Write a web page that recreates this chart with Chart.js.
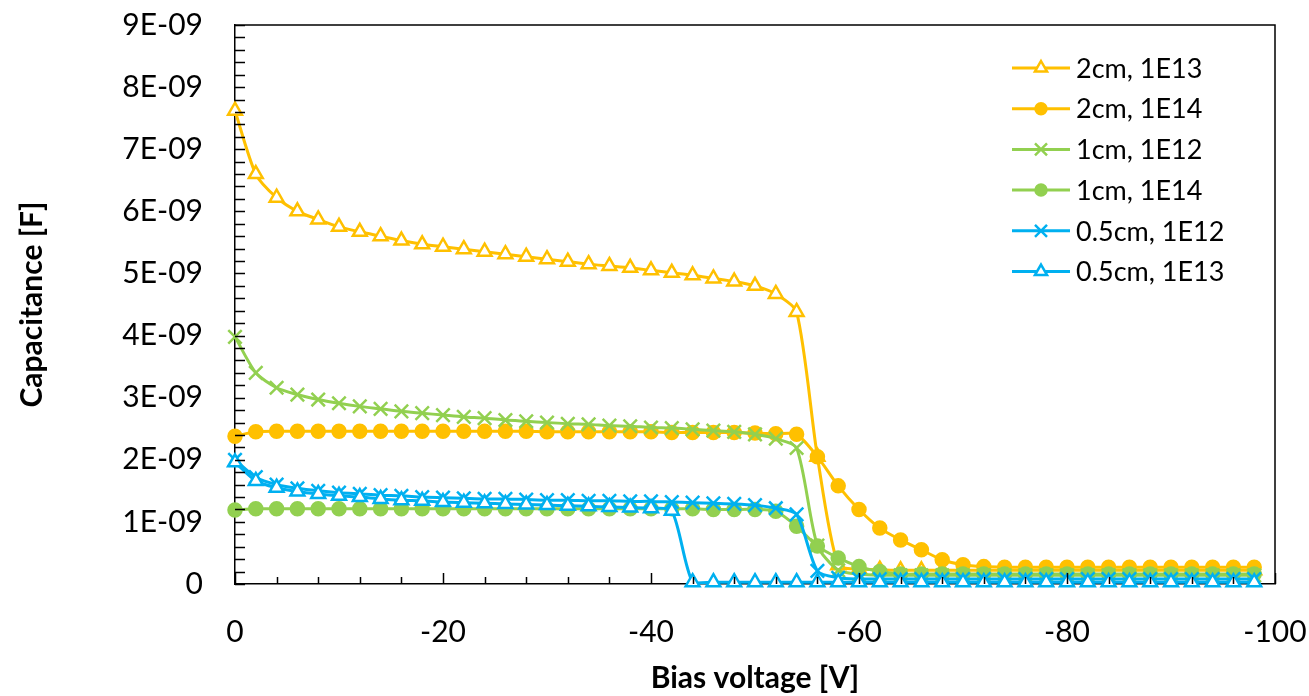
<!DOCTYPE html>
<html>
<head>
<meta charset="utf-8">
<script src="https://cdn.jsdelivr.net/npm/chart.js@4/dist/chart.umd.min.js"></script>
<style>
  html, body { margin: 0; padding: 0; background: #fff; }
  #wrap { width: 1309px; height: 696px; }
</style>
</head>
<body>
<div id="wrap"><canvas id="myChart" width="1309" height="696"></canvas></div>
<script>
// bias voltage [V]
const voltage = [0, -2, -4, -6, -8, -10, -12, -14, -16, -18, -20, -22, -24, -26, -28, -30, -32, -34, -36, -38,
  -40, -42, -44, -46, -48, -50, -52, -54, -56, -58, -60, -62, -64, -66, -68, -70, -72, -74, -76, -78,
  -80, -82, -84, -86, -88, -90, -92, -94, -96, -98];

// capacitance, in units of 1E-09 F
const cap2cm1E13 = [7.62, 6.6, 6.22, 6.0, 5.87, 5.75, 5.67, 5.6, 5.53, 5.47, 5.43, 5.39, 5.35, 5.31, 5.27, 5.23, 5.19, 5.15, 5.12, 5.09,
  5.05, 5.01, 4.97, 4.92, 4.87, 4.8, 4.67, 4.38, 2.05, 0.3, 0.24, 0.23, 0.22, 0.22, 0.22, 0.22, 0.22, 0.22, 0.22, 0.22,
  0.22, 0.22, 0.22, 0.22, 0.22, 0.22, 0.22, 0.22, 0.22, 0.22];
const cap2cm1E14 = [2.38, 2.45, 2.46, 2.46, 2.46, 2.46, 2.46, 2.46, 2.46, 2.46, 2.46, 2.46, 2.46, 2.46, 2.46, 2.45, 2.45, 2.45, 2.45, 2.45,
  2.45, 2.44, 2.44, 2.44, 2.44, 2.43, 2.42, 2.41, 2.05, 1.58, 1.2, 0.9, 0.71, 0.55, 0.39, 0.31, 0.28, 0.27, 0.27, 0.27,
  0.27, 0.27, 0.27, 0.27, 0.27, 0.27, 0.27, 0.27, 0.27, 0.27];
const cap1cm1E12 = [3.98, 3.4, 3.16, 3.05, 2.97, 2.91, 2.86, 2.82, 2.78, 2.75, 2.72, 2.69, 2.67, 2.64, 2.62, 2.6, 2.58, 2.57, 2.55, 2.54,
  2.52, 2.51, 2.49, 2.47, 2.45, 2.41, 2.34, 2.19, 0.62, 0.22, 0.16, 0.14, 0.14, 0.14, 0.14, 0.14, 0.14, 0.14, 0.14, 0.14,
  0.14, 0.14, 0.14, 0.14, 0.14, 0.14, 0.14, 0.14, 0.14, 0.14];
const cap1cm1E14 = [1.19, 1.21, 1.21, 1.21, 1.21, 1.21, 1.21, 1.21, 1.21, 1.21, 1.21, 1.21, 1.21, 1.21, 1.21, 1.21, 1.21, 1.21, 1.21, 1.21,
  1.21, 1.21, 1.21, 1.2, 1.2, 1.2, 1.17, 0.93, 0.61, 0.42, 0.28, 0.2, 0.16, 0.16, 0.16, 0.16, 0.16, 0.16, 0.16, 0.16,
  0.16, 0.16, 0.16, 0.16, 0.16, 0.16, 0.16, 0.16, 0.16, 0.16];
const cap05cm1E12 = [2.0, 1.72, 1.6, 1.54, 1.5, 1.47, 1.45, 1.43, 1.42, 1.4, 1.39, 1.38, 1.37, 1.37, 1.36, 1.35, 1.35, 1.34, 1.34, 1.33,
  1.33, 1.32, 1.31, 1.3, 1.29, 1.27, 1.22, 1.12, 0.21, 0.1, 0.08, 0.08, 0.08, 0.08, 0.08, 0.08, 0.08, 0.08, 0.08, 0.08,
  0.08, 0.08, 0.08, 0.08, 0.08, 0.08, 0.08, 0.08, 0.08, 0.08];
const cap05cm1E13 = [1.96, 1.66, 1.55, 1.49, 1.45, 1.42, 1.4, 1.37, 1.35, 1.34, 1.32, 1.31, 1.3, 1.29, 1.28, 1.27, 1.26, 1.25, 1.24, 1.23,
  1.22, 1.18, 0.03, 0.03, 0.03, 0.03, 0.03, 0.03, 0.03, 0.03, 0.03, 0.03, 0.03, 0.03, 0.03, 0.03, 0.03, 0.03, 0.03, 0.03,
  0.03, 0.03, 0.03, 0.03, 0.03, 0.03, 0.03, 0.03, 0.03, 0.03];

const seriesLabels = ["2cm, 1E13", "2cm, 1E14", "1cm, 1E12", "1cm, 1E14", "0.5cm, 1E12", "0.5cm, 1E13"];
const yTicks = [0, 1, 2, 3, 4, 5, 6, 7, 8, 9];
const xTicks = [0, -20, -40, -60, -80, -100];

const ORANGE = "rgb(255,192,0)";
const GREEN = "rgb(146,208,80)";
const BLUE = "rgb(0,176,240)";
const FONT = "Lato, 'Open Sans', sans-serif";

function markerSize(style) {
  if (style === "circle") return 6.5;
  if (style === "triangle") return 8;
  return 9.5;
}

function series(label, values, color, style, i) {
  return {
    label: label,
    data: voltage.map((v, k) => ({ x: v, y: values[k] })),
    borderColor: color,
    borderWidth: 3,
    pointStyle: style,
    pointRadius: markerSize(style),
    pointBorderWidth: 2.5,
    pointBorderColor: color,
    pointBackgroundColor: style === "circle" ? color : "#fff",
    tension: 0.25,
    order: 6 - i,
    clip: false,
  };
}

// inward tick marks, a box round the plot, and an Excel-like legend
const decorations = {
  id: "decorations",
  afterDraw(chart) {
    const ctx = chart.ctx;
    const area = chart.chartArea;
    const xs = chart.scales.x, ys = chart.scales.y;
    ctx.save();
    ctx.strokeStyle = "#000";
    ctx.lineWidth = 1.5;
    ctx.beginPath();
    ctx.moveTo(area.left, area.top);
    ctx.lineTo(area.right, area.top);
    ctx.lineTo(area.right, area.bottom);
    for (let v = 0; v <= 9.001; v += 0.2) {
      let py = Math.round(ys.getPixelForValue(v)) + 0.5;
      ctx.moveTo(area.left, py);
      ctx.lineTo(area.left + 10, py);
    }
    for (let v = 0; v >= -100; v -= 4) {
      let px = Math.round(xs.getPixelForValue(v)) + 0.5;
      ctx.moveTo(px, area.bottom);
      ctx.lineTo(px, area.bottom - (v % 20 === 0 ? 11 : 7));
    }
    ctx.stroke();

    // legend
    let lx = area.right - 263, ly = area.top + 43, gap = 40.7;
    ctx.font = "27px " + FONT;
    ctx.textBaseline = "middle";
    ctx.textAlign = "left";
    chart.data.datasets.forEach((ds, i) => {
      let y = ly + i * gap;
      ctx.strokeStyle = ds.borderColor;
      ctx.lineWidth = 3;
      ctx.beginPath();
      ctx.moveTo(lx, y);
      ctx.lineTo(lx + 58, y);
      ctx.stroke();
      ctx.fillStyle = ds.pointBackgroundColor;
      ctx.strokeStyle = ds.pointBorderColor;
      ctx.lineWidth = ds.pointBorderWidth;
      Chart.helpers.drawPoint(ctx, {
        pointStyle: ds.pointStyle,
        radius: markerSize(ds.pointStyle) - 1,
        borderWidth: ds.pointBorderWidth,
        rotation: 0,
      }, lx + 29, y);
      ctx.fillStyle = "#000";
      ctx.fillText(ds.label, lx + 64, y + 1);
    });
    ctx.restore();
  },
};

const ctx = document.getElementById("myChart").getContext("2d");
new Chart(ctx, {
  type: "line",
  data: {
    datasets: [
      series(seriesLabels[0], cap2cm1E13, ORANGE, "triangle", 0),
      series(seriesLabels[1], cap2cm1E14, ORANGE, "circle", 1),
      series(seriesLabels[2], cap1cm1E12, GREEN, "crossRot", 2),
      series(seriesLabels[3], cap1cm1E14, GREEN, "circle", 3),
      series(seriesLabels[4], cap05cm1E12, BLUE, "crossRot", 4),
      series(seriesLabels[5], cap05cm1E13, BLUE, "triangle", 5),
    ],
  },
  options: {
    responsive: false,
    animation: false,
    layout: { padding: { top: 25, right: 34, left: 0, bottom: 0 } },
    plugins: {
      legend: { display: false },
      tooltip: { enabled: false },
    },
    scales: {
      x: {
        type: "linear",
        reverse: true,
        min: -100,
        max: 0,
        afterFit: (s) => { s.height = 112; s.paddingLeft = 0; s.paddingRight = 0; },
        afterBuildTicks: (s) => { s.ticks = xTicks.map((v) => ({ value: v })); },
        grid: { display: false, drawTicks: false },
        border: { display: true, color: "#000", width: 1.5 },
        ticks: { color: "#000", font: { family: FONT, size: 30 }, padding: 30, maxRotation: 0 },
        title: {
          display: true,
          text: "Bias voltage [V]",
          color: "#000",
          font: { family: FONT, size: 30, weight: "bold" },
          padding: { top: 0, bottom: 0 },
        },
      },
      y: {
        type: "linear",
        min: 0,
        max: 9,
        afterFit: (s) => { s.width = 235; s.paddingTop = 0; s.paddingBottom = 0; },
        afterBuildTicks: (s) => { s.ticks = yTicks.map((v) => ({ value: v })); },
        grid: { display: false, drawTicks: false },
        border: { display: true, color: "#000", width: 1.5 },
        ticks: {
          color: "#000",
          font: { family: FONT, size: 30 },
          padding: 32,
          callback: (v) => (v === 0 ? "0" : v + "E-09"),
        },
        title: {
          display: true,
          text: "Capacitance [F]",
          color: "#000",
          font: { family: FONT, size: 30, weight: "bold" },
          padding: { top: 14, bottom: 0 },
        },
      },
    },
  },
  plugins: [decorations],
});
</script>
</body>
</html>
